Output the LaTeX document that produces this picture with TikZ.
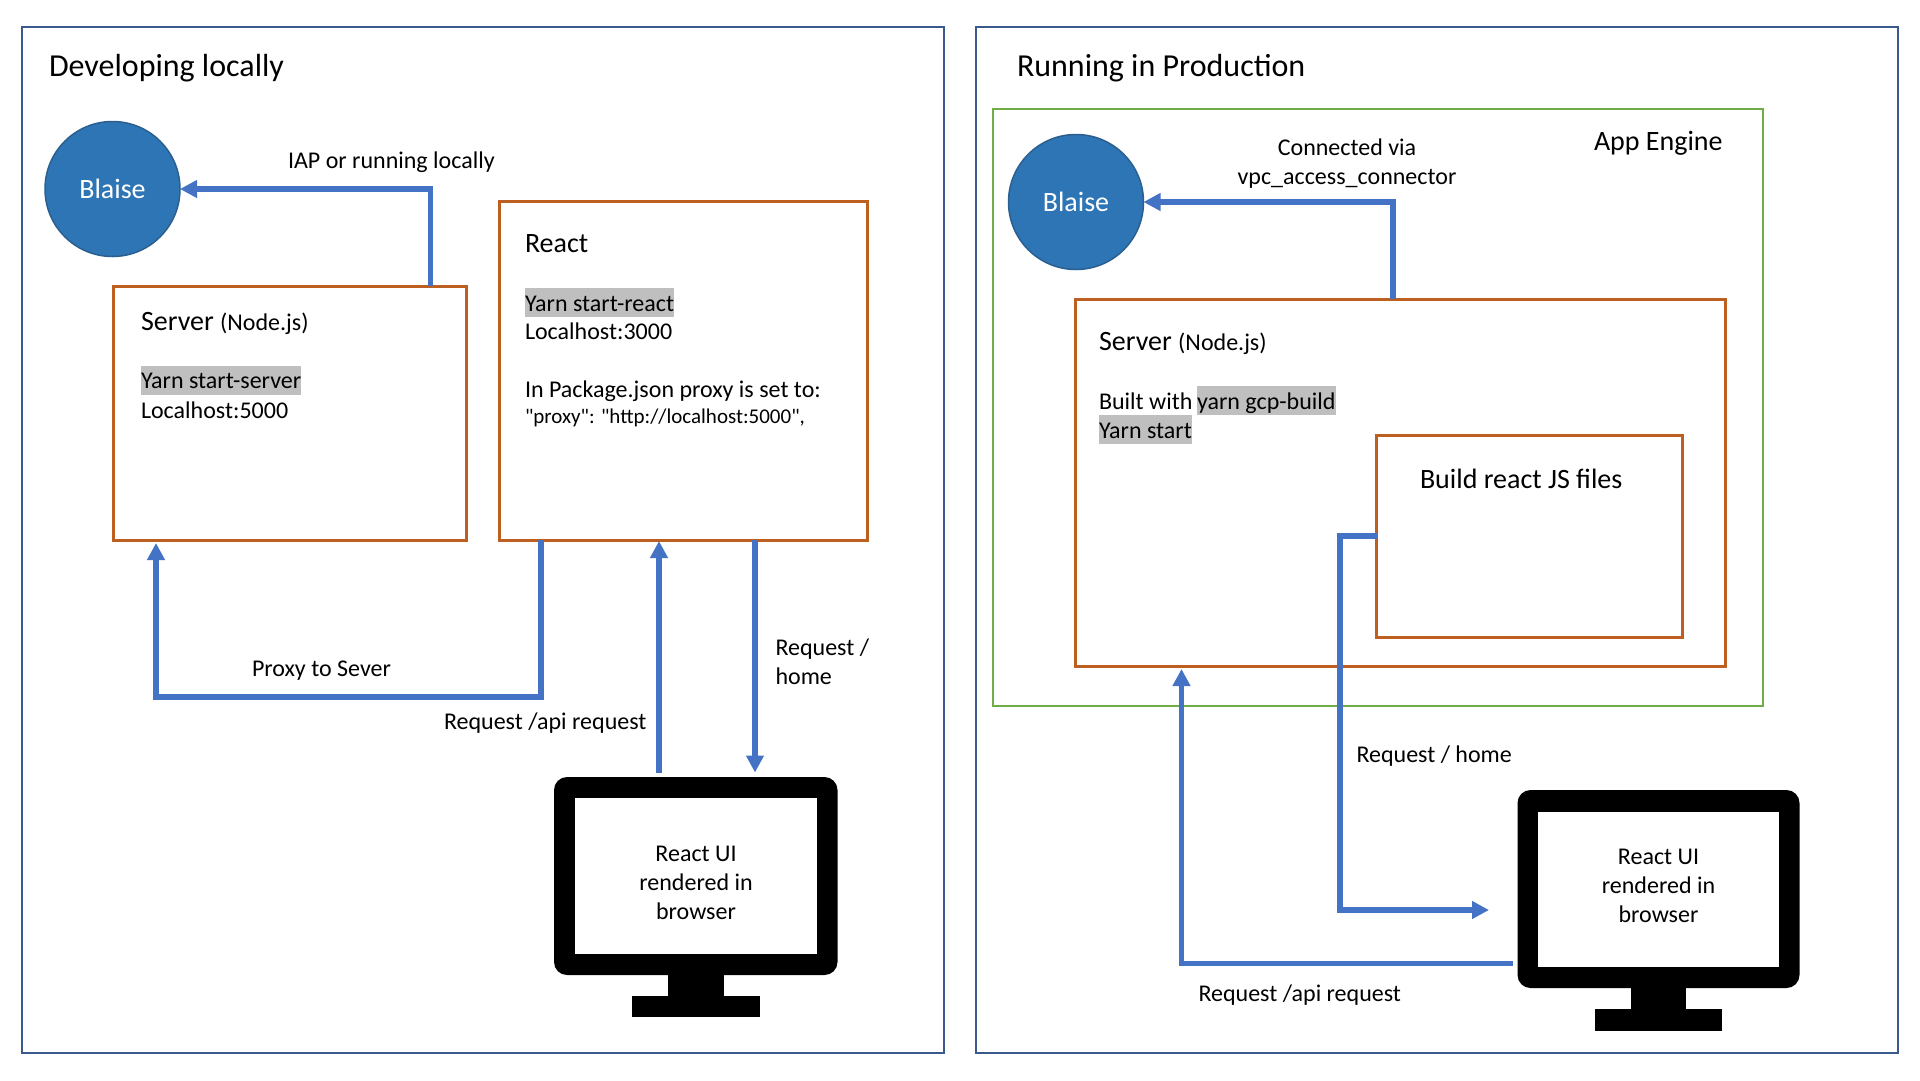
\documentclass[tikz,border=0pt]{standalone}
\usepackage{fontspec}
\setmainfont{Carlito}
\newfontfamily\rawfont{Carlito}
\usetikzlibrary{arrows.meta}
\definecolor{frameblue}{HTML}{3A5A8C}
\definecolor{boxorange}{HTML}{BD5F20}
\definecolor{enginegreen}{HTML}{70AD47}
\definecolor{connblue}{HTML}{4472C4}
\definecolor{blaisefill}{HTML}{2E75B6}
\definecolor{blaiseline}{HTML}{2A5F8F}
\definecolor{hlgray}{HTML}{BFBFBF}
\newcommand{\fs}[1]{\fontsize{#1}{#1}\selectfont}
\tikzset{
  frame/.style={draw=frameblue,line width=2.2pt,inner sep=0pt,outer sep=0pt},
  engine/.style={draw=enginegreen,line width=2.2pt,inner sep=0pt,outer sep=0pt},
  appbox/.style={draw=boxorange,line width=3pt,inner sep=0pt,outer sep=0pt},
  blaise/.style={circle,fill=blaisefill,draw=blaiseline,line width=1.5pt,minimum size=135pt,inner sep=0pt,outer sep=0pt,text=white,font=\fs{28}},
  conn/.style={draw=connblue,line width=5.8pt,-{Triangle[length=17pt,width=17pt]}},
  title/.style={inner sep=0pt,outer sep=0pt,anchor=base west,font=\fs{32}},
  head/.style={inner sep=0pt,outer sep=0pt,anchor=base west,font=\fs{28}},
  body/.style={inner sep=0pt,outer sep=0pt,anchor=base west,font=\fs{24}},
  hl/.style={body,fill=hlgray,text height=23pt,text depth=6pt},
  lines/.style={inner sep=0pt,outer sep=0pt,align=center,font=\fontsize{24}{28.8}\selectfont},
  bezel/.style={fill=black,rounded corners=13pt,inner sep=0pt,outer sep=0pt},
  screen/.style={fill=white,inner sep=0pt,outer sep=0pt},
  stand/.style={fill=black,inner sep=0pt,outer sep=0pt}
}
\begin{document}
\begin{tikzpicture}[x=1pt,y=-1pt]
\useasboundingbox (0,0) rectangle (1920,1080);
\fill[white] (0,0) rectangle (1920,1080);

% ---------- left panel ----------
\node[frame,minimum width=922pt,minimum height=1026pt] (outerL) at (483,540) {};
\node[title] (titleL) at (49,76.5) {Developing locally};
\node[blaise] (blaiseL) at (112.5,189) {Blaise};
\node[appbox,minimum width=353pt,minimum height=254pt] (serverL) at (290,413) {};
\node[appbox,minimum width=368pt,minimum height=339pt] (reactL) at (683,370.5) {};

\node[head] (serverLtxt) at (141,330.5) {Server {\fs{24}(Node.js)}};
\node[hl] (yarnS) at (141,388.6) {Yarn start-server};
\node[body] (hostS) at (141,418) {Localhost:5000};

\node[head] (reactLtxt) at (525,252) {React};
\node[hl] (yarnR) at (525,311) {Yarn start-react};
\node[body] (hostR) at (525,339.5) {Localhost:3000};
\node[body] (pkg) at (525,397) {In Package.json proxy is set to:};
\node[body,font=\rawfont\fs{21}] (proxy) at (525,423) {"proxy": "http://localhost:5000",};

\node[body] (iap) at (288,168) {IAP or running locally};
\node[body] (proxyto) at (252,676) {Proxy to Sever};
\node[body] (apiL) at (444,729) {Request /api request};
\node[body] (homeA) at (775.5,655) {Request /};
\node[body] (homeB) at (775.5,684) {home};

\node[stand,minimum width=56pt,minimum height=24pt] (neckL) at (696,985) {};
\node[stand,minimum width=128pt,minimum height=21pt] (baseL) at (696,1006.5) {};
\node[bezel,minimum width=283.5pt,minimum height=198pt] (monL) at (695.75,876) {};
\node[screen,minimum width=242pt,minimum height=156pt] (scrL) at (696,876) {};
\node[lines] (scrLtxt) at (696,883) {React UI\\rendered in\\browser};

\draw[conn] ([xshift=317pt]serverL.north west) |- (blaiseL.east);
\coordinate (proxyElbow) at (541,697);
\draw[conn] ([xshift=42pt]reactL.south west) -- (proxyElbow) -| ([xshift=42.5pt,yshift=-3pt]serverL.south west);
\draw[conn] ([xshift=105pt,yshift=4.5pt]monL.north west) -- ([xshift=160pt,yshift=-1pt]reactL.south west);
\draw[conn] ([xshift=256pt]reactL.south west) -- ([xshift=201pt,yshift=4.5pt]monL.north west);

% ---------- right panel ----------
\node[frame,minimum width=922pt,minimum height=1026pt] (outerR) at (1437,540) {};
\node[title] (titleR) at (1017,76.5) {Running in Production};
\node[engine,minimum width=770pt,minimum height=597pt] (engineR) at (1378,407.5) {};
\node[head] (engineTxt) at (1594,150) {App Engine};
\node[blaise] (blaiseR) at (1076,202) {Blaise};
\node[appbox,minimum width=650pt,minimum height=367pt] (serverR) at (1400.5,482.5) {};
\node[appbox,minimum width=306pt,minimum height=202pt] (build) at (1529.5,536) {};

\node[head] (serverRtxt) at (1099,350.5) {Server {\fs{24}(Node.js)}};
\node[body] (built) at (1099,409) {Built with};
\node[hl] (gcp) at (1197,409) {yarn gcp-build};
\node[hl] (ystart) at (1099,438) {Yarn start};
\node[head] (buildTxt) at (1420,488) {Build react JS files};

\node[lines] (vpc) at (1347,163.5) {Connected via\\vpc\_access\_connector};
\node[body] (homeR) at (1356.5,762) {Request / home};
\node[body] (apiR) at (1198.5,1001) {Request /api request};

\node[stand,minimum width=55pt,minimum height=24pt] (neckR) at (1658.5,998) {};
\node[stand,minimum width=127pt,minimum height=22pt] (baseR) at (1658.5,1020) {};
\node[bezel,minimum width=282pt,minimum height=198pt] (monR) at (1658.5,889) {};
\node[screen,minimum width=241pt,minimum height=155.5pt] (scrR) at (1658.5,889.25) {};
\node[lines] (scrRtxt) at (1658.5,886) {React UI\\rendered in\\browser};

\draw[conn] ([xshift=317.5pt]serverR.north west) |- (blaiseR.east);
\coordinate (homeElbowA) at (1340,536);
\coordinate (homeElbowB) at (1340,910);
\coordinate (homeTip) at (1489,910);
\draw[conn] (build.west) -- (homeElbowA) -- (homeElbowB) -- (homeTip);
\coordinate (apiElbow) at (1181.5,963.5);
\coordinate (apiStart) at (1513,963.5);
\draw[conn] (apiStart) -- (apiElbow) -- ([xshift=106pt,yshift=-3pt]serverR.south west);
\end{tikzpicture}
\end{document}
